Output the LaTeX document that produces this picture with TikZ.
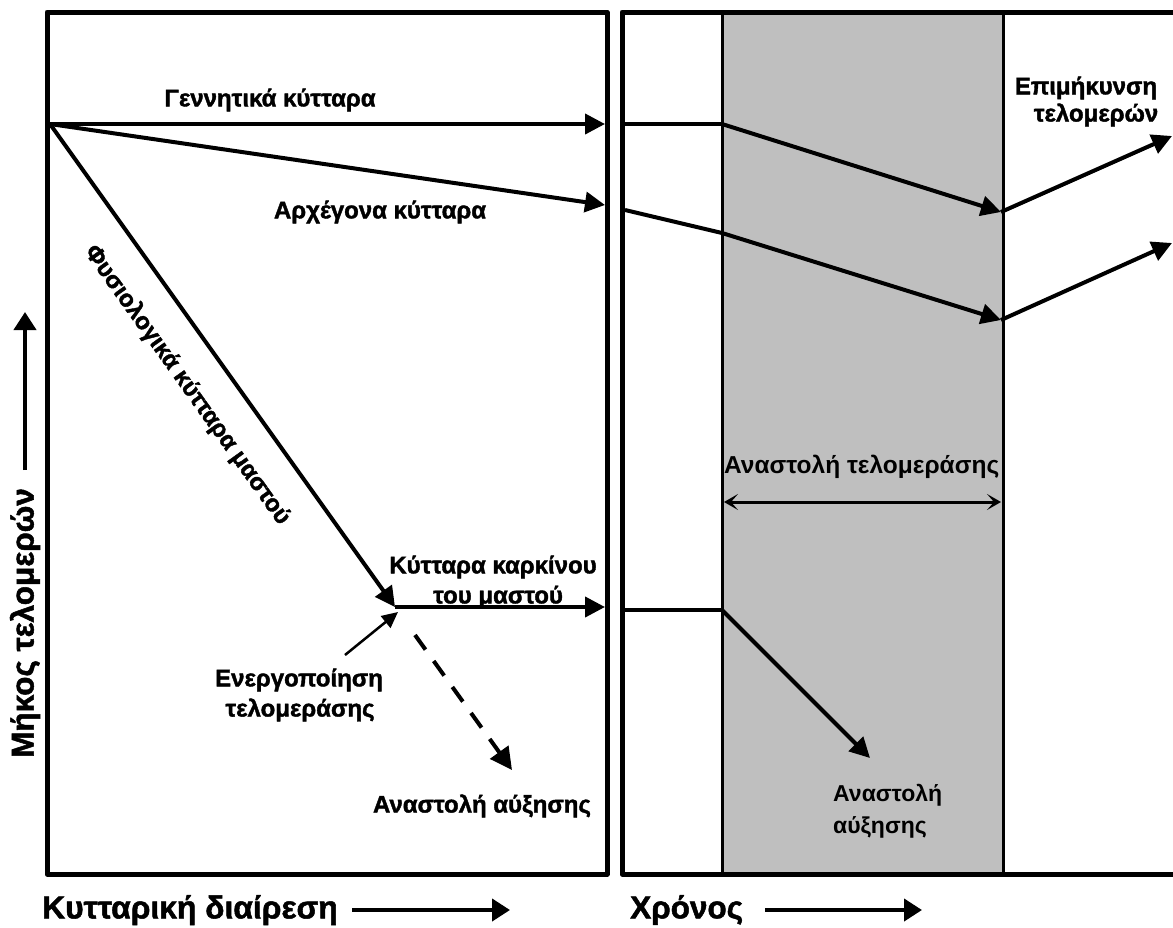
\documentclass[tikz,border=0pt]{standalone}
\usepackage{fontspec}
\setmainfont{Liberation Sans}
\newfontfamily\heavyfont{Liberation Sans}[FakeBold=1.6]
\usetikzlibrary{arrows.meta}
\definecolor{boxgray}{RGB}{191,191,191}
\tikzset{
  frame/.style={line width=5pt, line join=round},
  arr/.style={line width=4pt, -{Triangle[length=20pt,width=20pt]}},
  thinarr/.style={line width=2.5pt, -{Triangle[length=16pt,width=15pt]}},
  dasharr/.style={line width=4pt, dash pattern=on 18pt off 14pt, -{Triangle[length=22pt,width=22pt]}},
  sep/.style={line width=3pt},
  dbl/.style={line width=3pt, {Stealth[length=14pt,width=16pt,inset=7pt]}-{Stealth[length=14pt,width=16pt,inset=7pt]}},
  lbl/.style={font=\heavyfont\fontsize{24}{30}\selectfont\bfseries, inner sep=0pt, align=center},
  plain/.style={font=\fontsize{23}{32}\selectfont\bfseries, inner sep=0pt},
  big/.style={font=\heavyfont\fontsize{31.5}{36}\selectfont\bfseries, inner sep=0pt},
}
\begin{document}
\begin{tikzpicture}[x=1pt,y=-1pt]
\useasboundingbox (0,0) rectangle (1173,927);
% gray band
\fill[boxgray] (722,12) rectangle (1003,874);
% frames
\draw[frame] (47,12) rectangle (607,874);
\draw[frame] (1190,12) -- (622,12) -- (622,874) -- (1190,874);

% coordinates
\coordinate (O) at (50,124);
\coordinate (G) at (605,124);
\coordinate (A) at (605,205);
\coordinate (C) at (395,607);
\coordinate (Ce) at (605,607);
\coordinate (Ea) at (345,655);
\coordinate (Ct) at (398,612);
\coordinate (Ds) at (415,635);
\coordinate (De) at (512,770);

% left panel arrows
\draw[arr] (O) -- (G);
\draw[arr] (O) -- (A);
\draw[arr] (O) -- (C);
\draw[arr] (C) -- (Ce);
\draw[thinarr] (Ea) -- (Ct);
\draw[dasharr] (Ds) -- (De);

% left panel labels
\node[lbl] (tG) at (270,100) {Γεννητικά κύτταρα};
\node[lbl] (tA) at (380,212) {Αρχέγονα κύτταρα};
\node[lbl, rotate=-54.5] (tF) at (187,385) {Φυσιολογικά κύτταρα μαστού};
\node[lbl] (tK1) at (493,567) {Κύτταρα καρκίνου};
\node[lbl] (tK2) at (498,597) {του μαστού};
\node[lbl] (tE1) at (299,680) {Ενεργοποίηση};
\node[lbl] (tE2) at (300,710) {τελομεράσης};
\node[lbl] (tS) at (482,806) {Αναστολή αύξησης};

% right panel
\coordinate (R1s) at (625,124);
\coordinate (R1m) at (722,124);
\coordinate (R1e) at (1001,212);
\coordinate (R1f) at (1172,136);
\coordinate (R2s) at (625,210);
\coordinate (R2m) at (722,233);
\coordinate (R2e) at (1001,320);
\coordinate (R2f) at (1172,243);
\coordinate (R3s) at (625,610);
\coordinate (R3m) at (722,610);
\coordinate (R3e) at (870,758);
\coordinate (Bl) at (724,502);
\coordinate (Br) at (1001,502);

\begin{scope}
\clip (722,440) rectangle (1003,490);
\node[plain, font=\fontsize{24.5}{30}\selectfont\bfseries, anchor=west] (tT) at (724,467) {Αναστολή τελομεράσης};
\end{scope}
\draw[sep] (722,12) -- (722,874);
\draw[sep] (1003,12) -- (1003,874);

\draw[line width=4pt] (R1s) -- (R1m);
\draw[arr] (R1m) -- (R1e);
\draw[arr] (R1e) -- (R1f);
\draw[line width=4pt] (R2s) -- (R2m);
\draw[arr] (R2m) -- (R2e);
\draw[arr] (R2e) -- (R2f);
\draw[line width=4pt] (R3s) -- (R3m);
\draw[arr] (R3m) -- (R3e);
\draw[dbl] (Bl) -- (Br);

\node[lbl] (tL1) at (1086,88) {Επιμήκυνση};
\node[lbl] (tL2) at (1096,115) {τελομερών};
\node[plain, align=left, anchor=north west] (tS2) at (833,784) {Αναστολή\\αύξησης};

% axes
\node[big, rotate=90] (yl) at (25,623) {Μήκος τελομερών};
\coordinate (ya) at (25,470);
\coordinate (yb) at (25,312);
\draw[line width=4pt, -{Triangle[length=18pt,width=22pt]}] (ya) -- (yb);

\node[big, font=\heavyfont\fontsize{31.8}{36}\selectfont\bfseries, anchor=west] (xl) at (42,910) {Κυτταρική διαίρεση};
\coordinate (xa) at (352,910);
\coordinate (xb) at (510,910);
\draw[line width=4pt, -{Triangle[length=18pt,width=22pt]}] (xa) -- (xb);

\node[big, anchor=west] (tl) at (630,910) {Χρόνος};
\coordinate (ta) at (765,910);
\coordinate (tb) at (922,910);
\draw[line width=4pt, -{Triangle[length=18pt,width=22pt]}] (ta) -- (tb);
\end{tikzpicture}
\end{document}
